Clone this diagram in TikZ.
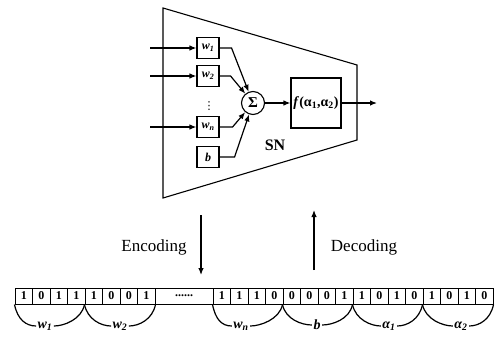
\documentclass[tikz,border=0pt]{standalone}
\usepackage{fontspec}
\setmainfont{Liberation Serif}
\newfontfamily\symfont{DejaVu Sans}
\usetikzlibrary{arrows.meta}
\begin{document}
\begin{tikzpicture}[x=1pt,y=-1pt,
  line width=1.1pt,
  arr/.style={-{Latex[length=7pt,width=5.5pt]}, line width=1.2pt},
  wbox/.style={draw, minimum width=22pt, minimum height=21pt, inner sep=0pt, font=\fontsize{12}{12}\selectfont\bfseries\itshape},
  cell/.style={draw, minimum width=17.5pt, minimum height=16pt, inner sep=0pt, font=\fontsize{12}{12}\selectfont\bfseries, line width=1pt},
  blab/.style={inner sep=1pt, font=\fontsize{14}{14}\selectfont\bfseries\itshape},
  lab/.style={inner sep=0pt, font=\fontsize{17}{17}\selectfont},
  brc/.style={line width=1.2pt}
]
\useasboundingbox (0,0) rectangle (497,337);
% trapezoid
\draw (163,8) -- (357,65) -- (357,140) -- (163,198) -- cycle;
% weight boxes
\node[wbox] (w1) at (208,48) {w\textsubscript{1}};
\node[wbox] (w2) at (208,76) {w\textsubscript{2}};
\node[wbox] (wn) at (208,127) {w\textsubscript{n}};
\node[wbox] (b) at (208,157) {b};
\node[inner sep=0pt, font=\symfont\fontsize{11}{11}\selectfont] (vd) at (209,106) {⋮};
\node[draw, circle, minimum size=23pt, inner sep=0pt, font=\fontsize{15}{15}\selectfont\bfseries] (sum) at (253,103) {Σ};
\node[draw, minimum width=50pt, minimum height=50pt, inner sep=0pt, font=\fontsize{14}{14}\selectfont\bfseries] (f) at (316,103) {\textit{f}(α\textsubscript{1},α\textsubscript{2})};
\node[inner sep=0pt, font=\fontsize{16}{16}\selectfont\bfseries] (sn) at (275,145) {SN};
% inputs
\coordinate (i1) at (150,48);
\coordinate (i2) at (150,76);
\coordinate (i3) at (150,127);
\draw[arr] (i1) -- (w1);
\draw[arr] (i2) -- (w2);
\draw[arr] (i3) -- (wn);
% to sum
\draw[arr] (w1.east) -- ++(12,0) -- (sum);
\draw[arr] (w2.east) -- ++(11,0) -- (sum);
\draw[arr] (wn.east) -- ++(13,0) -- (sum);
\draw[arr] (b.east) -- ++(15,0) -- (sum);
\draw[arr] (sum) -- (f);
\coordinate (out) at (377,103);
\draw[arr] (f) -- (out);
% encoding / decoding
\coordinate (e1) at (201,215);
\coordinate (e2) at (201,275);
\draw[arr] (e1) -- (e2);
\node[lab] (enc) at (154,247) {Encoding};
\coordinate (d1) at (314,270);
\coordinate (d2) at (314,210);
\draw[arr] (d1) -- (d2);
\node[lab] (dec) at (364,247) {Decoding};
% strip
\foreach \d [count=\i from 0] in {1,0,1,1,1,0,0,1}
  \node[cell] (a\i) at ({23.75+17.5*\i},296) {\d};
\node[cell, minimum width=58pt] (dots) at (184,296) {......};
\foreach \d [count=\i from 0] in {1,1,1,0,0,0,0,1,1,0,1,0,1,0,1,0}
  \node[cell] (c\i) at ({221.75+17.5*\i},296) {\d};
% brace labels
\node[blab] (L1) at (45,326) {w\textsubscript{1}};
\node[blab] (L2) at (120,326) {w\textsubscript{2}};
\node[blab] (L3) at (241,326) {w\textsubscript{n}};
\node[blab] (L4) at (317,325) {b};
\node[blab] (L5) at (389,326) {α\textsubscript{1}};
\node[blab] (L6) at (461,326) {α\textsubscript{2}};
% braces
\draw[brc] (a0.south west) .. controls +(3,15) and +(-10,0) .. (L1.west);
\draw[brc] (L1.east) .. controls +(10,0) and +(-3,15) .. (a4.south west);
\draw[brc] (a4.south west) .. controls +(3,15) and +(-10,0) .. (L2.west);
\draw[brc] (L2.east) .. controls +(10,0) and +(-3,15) .. (a7.south east);
\draw[brc] (c0.south west) .. controls +(3,15) and +(-10,0) .. (L3.west);
\draw[brc] (L3.east) .. controls +(10,0) and +(-3,15) .. (c4.south west);
\draw[brc] (c4.south west) .. controls +(3,15) and +(-10,0) .. (L4.west);
\draw[brc] (L4.east) .. controls +(10,0) and +(-3,15) .. (c8.south west);
\draw[brc] (c8.south west) .. controls +(3,15) and +(-10,0) .. (L5.west);
\draw[brc] (L5.east) .. controls +(10,0) and +(-3,15) .. (c12.south west);
\draw[brc] (c12.south west) .. controls +(3,15) and +(-10,0) .. (L6.west);
\draw[brc] (L6.east) .. controls +(10,0) and +(-3,15) .. (c15.south east);
\end{tikzpicture}
\end{document}
